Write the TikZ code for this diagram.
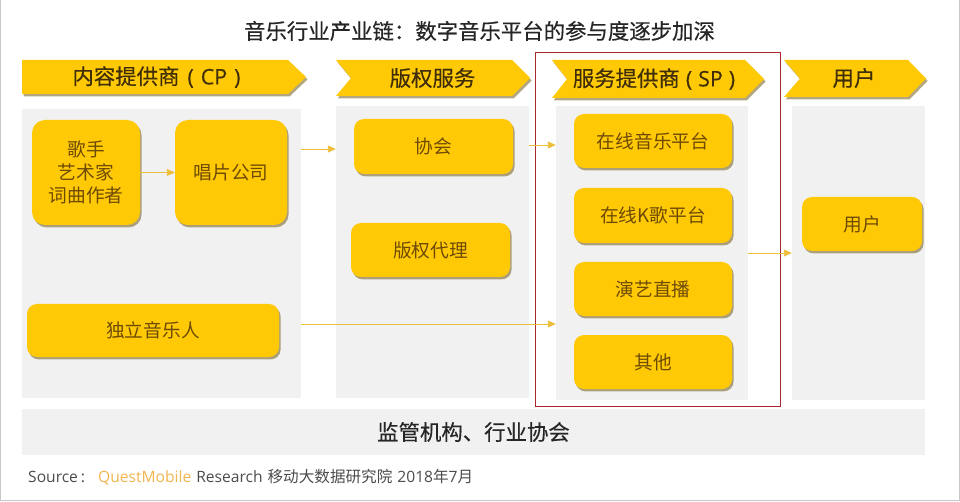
\documentclass[tikz,border=0pt]{standalone}
\usepackage{fontspec}
\setmainfont{Noto Sans CJK SC}
\newfontfamily\latinf{Open Sans}
\newfontfamily\medf[FakeBold=0.35]{Noto Sans CJK SC}
\newfontfamily\medlat[FakeBold=0.35]{Open Sans}
\usetikzlibrary{shadows,arrows.meta}
\definecolor{gold}{HTML}{FFC906}
\definecolor{panelgrey}{HTML}{F1F1F2}
\definecolor{hdtext}{HTML}{3F2E08}
\definecolor{boxtext}{HTML}{6E4B05}
\definecolor{arrowc}{HTML}{EDBE3A}
\definecolor{framered}{HTML}{A8262E}
\definecolor{qm}{HTML}{F2B550}
\tikzset{
  sh/.style={drop shadow={shadow xshift=1.6pt,shadow yshift=-2.4pt,fill=black!60!gold,opacity=.5}},
  box/.style={fill=gold,rounded corners=#1,sh,inner sep=0pt,align=center,text=boxtext,font=\fontsize{18.7}{23}\selectfont,draw=none},
  box/.default=10pt,
  panel/.style={fill=panelgrey,draw=none,inner sep=0pt},
  hd/.style={fill=gold,sh,draw=none},
  hdlabel/.style={text=hdtext,font=\medf\fontsize{21.4}{25}\selectfont,inner sep=0pt},
  arr/.style={draw=arrowc,line width=.9pt,-{Triangle[length=8pt,width=7pt,fill=arrowc]}}
}
\begin{document}
\begin{tikzpicture}[x=1pt,y=-1pt]
\useasboundingbox (0,0) rectangle (960,502);
\fill[white] (0,0) rectangle (960,502);
\draw[black!22,line width=1.4pt] (.7,0) -- (.7,500.5) -- (959.3,500.5) -- (959.3,0);

\node[font=\medf\fontsize{21.4}{25}\selectfont,text=black!85,inner sep=0pt] (title) at (479.5,31) {音乐行业产业链：数字音乐平台的参与度逐步加深};

% panels
\node[panel,minimum width=279pt,minimum height=289pt] (p1) at (161.5,253.5) {};
\node[panel,minimum width=193pt,minimum height=292pt] (p2) at (432.5,252) {};
\node[panel,minimum width=192pt,minimum height=294pt] (p3) at (652,253) {};
\node[panel,minimum width=133pt,minimum height=294pt] (p4) at (858.5,253) {};
\node[panel,minimum width=903pt,minimum height=46pt,font=\medf\fontsize{21.4}{25}\selectfont,text=black!85] (reg) at (473.5,432) {监管机构、行业协会};

% red frame
\node[draw=framered,line width=1pt,minimum width=245pt,minimum height=353pt,inner sep=0pt] (frame) at (657.5,229.5) {};

% headers
\path[hd] (22,60) -- (288,60) -- (306,77) -- (288,94) -- (22,94) -- cycle;
\path[hd] (336,60) -- (512,60) -- (530,78) -- (512,96) -- (336,96) -- (351,78) -- cycle;
\path[hd] (552,60) -- (745,60) -- (764,79) -- (745,98) -- (552,98) -- (567,79) -- cycle;
\path[hd] (784,60) -- (908,60) -- (926,78.5) -- (908,97) -- (784,97) -- (800,78.5) -- cycle;
\node[hdlabel] (h1) at (156.5,77) {内容提供商\hspace{8pt}{\medlat(\hspace{7pt}CP\hspace{7pt})}};
\node[hdlabel] (h2) at (432.5,78) {版权服务};
\node[hdlabel] (h3) at (654,79) {服务提供商\hspace{6pt}{\medlat(\hspace{6pt}SP\hspace{6pt})}};
\node[hdlabel] (h4) at (854,78) {用户};

% boxes
\node[box=13pt,minimum width=108pt,minimum height=105pt] (singer) at (86,172.5) {歌手\\艺术家\\词曲作者};
\node[box=13pt,minimum width=112pt,minimum height=105pt] (label) at (231,172.5) {唱片公司};
\node[box,minimum width=252pt,minimum height=53pt] (indie) at (153,330.5) {独立音乐人};
\node[box,minimum width=159pt,minimum height=55pt] (assoc) at (433.5,146.5) {协会};
\node[box,minimum width=159pt,minimum height=54pt] (agent) at (430.5,250) {版权代理};
\node[box,minimum width=158pt,minimum height=54pt] (s1) at (653,141) {在线音乐平台};
\node[box,minimum width=158pt,minimum height=55pt] (s2) at (653,215.5) {在线K歌平台};
\node[box,minimum width=158pt,minimum height=54pt] (s3) at (653,289) {演艺直播};
\node[box,minimum width=158pt,minimum height=54pt] (s4) at (653,362) {其他};
\node[box,minimum width=120pt,minimum height=54pt] (user) at (862,224) {用户};

% connectors
\draw[arr] (singer.east) -- (label.west);
\draw[arr] (p1.east |- 0,149) -- (p2.west |- 0,149);
\draw[arr] (p2.east |- 0,145) -- (p3.west |- 0,145);
\draw[arr] (p1.east |- 0,324) -- (p3.west |- 0,324);
\draw[arr] (p3.east |- 0,253) -- (p4.west |- 0,253);

% source
\node[anchor=west,inner sep=0pt,font=\fontsize{15.6}{19}\selectfont,text=black!70] (src) at (28,477) {{\latinf Source\hspace{3pt}:}\hspace{13pt}{\latinf\color{qm}QuestMobile}\hspace{5pt}{\latinf Research}\hspace{5pt}移动大数据研究院\hspace{5pt}{\latinf 2018}年{\latinf 7}月};
\end{tikzpicture}
\end{document}
